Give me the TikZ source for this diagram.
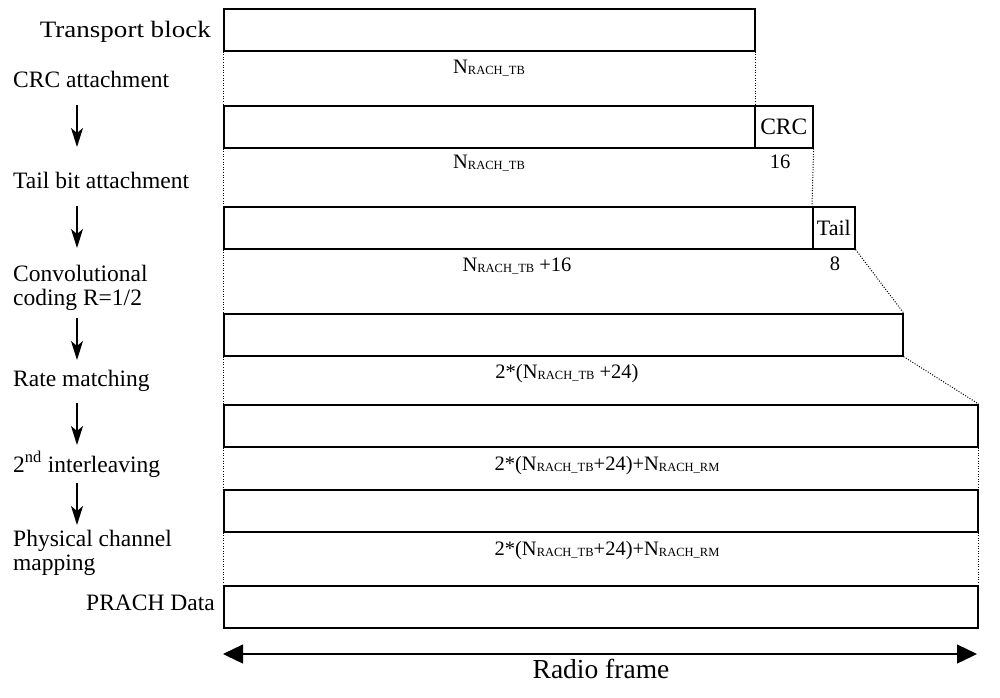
\documentclass[tikz,border=0pt]{standalone}
\usepackage{fontspec}
\setmainfont{Liberation Serif}
\usetikzlibrary{arrows.meta}
\tikzset{blk/.style={draw, line width=1.6pt, inner sep=0pt, anchor=north west,
  minimum height=42pt},
  stg/.style={inner sep=0pt, anchor=base west, align=left,
  font=\fontsize{23.5}{23.5}\selectfont},
  lbl/.style={inner sep=0pt, anchor=base, font=\fontsize{20.5}{21}\selectfont}}
\newcommand{\nsub}[1]{\raisebox{-1.5pt}{\fontsize{12.5}{13}\selectfont #1}}

\begin{document}
\begin{tikzpicture}[x=1pt, y=-1pt,
  >={Stealth[length=19pt, width=12pt, inset=5pt]},
  gap/.style={dash pattern=on 1pt off 1.6pt, line width=1pt}]
  \useasboundingbox (0,0) rectangle (1000,697);
  % blocks
  \node[blk, minimum width=531pt] (tb) at (223,8) {};
  \node[blk, minimum width=531pt] (crcd) at (223,105) {};
  \node[blk, minimum width=58pt, font=\fontsize{23.5}{24}\selectfont] (crc) at (754,105) {CRC};
  \node[blk, minimum width=589pt] (tbd) at (223,206) {};
  \node[blk, minimum width=42pt, font=\fontsize{22}{22}\selectfont] (tail) at (812,206) {Tail};
  \node[blk, minimum width=679pt] (cc) at (223,313) {};
  \node[blk, minimum width=754pt] (rm) at (223,404) {};
  \node[blk, minimum width=754pt] (il) at (223,489) {};
  \node[blk, minimum width=754pt] (pr) at (223,585) {};
  % stage names
  \node[stg, anchor=base east, font=\fontsize{23.5}{24}\selectfont] (ntb) at (211,37)
    {\scalebox{1.15}[1]{Transport block}};
  \node[stg] (ncrc) at (13,87) {CRC attachment};
  \node[stg] (ntail) at (13,188) {Tail bit attachment};
  \node[stg] (ncc) at (13,305) {Convolutional\\coding R=1/2};
  \node[stg] (nrm) at (13,386) {Rate matching};
  \node[stg] (nil) at (13,472) {2\textsuperscript{nd} interleaving};
  \node[stg] (nph) at (13,570) {Physical channel\\mapping};
  \node[stg, anchor=base east] (npr) at (215,610) {PRACH Data};
  \foreach \i/\t/\b in {1/105/147, 2/206/248, 3/318/360, 4/403/445, 5/483/525} {
    \coordinate (s\i) at (77,\t);
    \coordinate (e\i) at (77,\b);
    \draw[->, line width=1.3pt] (s\i) -- (e\i);
  }
  % sizes
  \node[lbl] (l1) at (489,73) {N\nsub{RACH\_TB}};
  \node[lbl] (l2) at (489,168) {N\nsub{RACH\_TB}};
  \node[lbl] (l16) at (780,168) {16};
  \node[lbl] (l3) at (517,271) {N\nsub{RACH\_TB} +16};
  \node[lbl] (l8) at (835,270) {8};
  \node[lbl] (l4) at (567,378) {2*(N\nsub{RACH\_TB} +24)};
  \node[lbl] (l5) at (607,470) {2*(N\nsub{RACH\_TB}+24)+N\nsub{RACH\_RM}};
  \node[lbl] (l6) at (607,555) {2*(N\nsub{RACH\_TB}+24)+N\nsub{RACH\_RM}};
  % dotted guides
  \foreach \a/\b in {tb/crcd, crcd/tbd, tbd/cc, cc/rm, rm/il, il/pr}
    \draw[gap] (\a.south west) -- (\b.north west);
  \draw[gap] (tb.south east) -- (crcd.north east);
  \draw[gap] (crc.south east) -- (tail.north west);
  \draw[gap] (tail.south east) -- (cc.north east);
  \draw[gap] (cc.south east) -- (rm.north east);
  \draw[gap] (rm.south east) -- (il.north east);
  \draw[gap] (il.south east) -- (pr.north east);
  % radio frame
  \coordinate (rl) at (223,654);
  \coordinate (rr) at (977,654);
  \draw[{Triangle[length=20pt, width=19pt]}-{Triangle[length=20pt, width=19pt]},
    line width=1.3pt] (rl) -- (rr);
  \node[lbl, font=\fontsize{27.5}{28}\selectfont] (rf) at (601,678) {Radio frame};
\end{tikzpicture}
\end{document}
